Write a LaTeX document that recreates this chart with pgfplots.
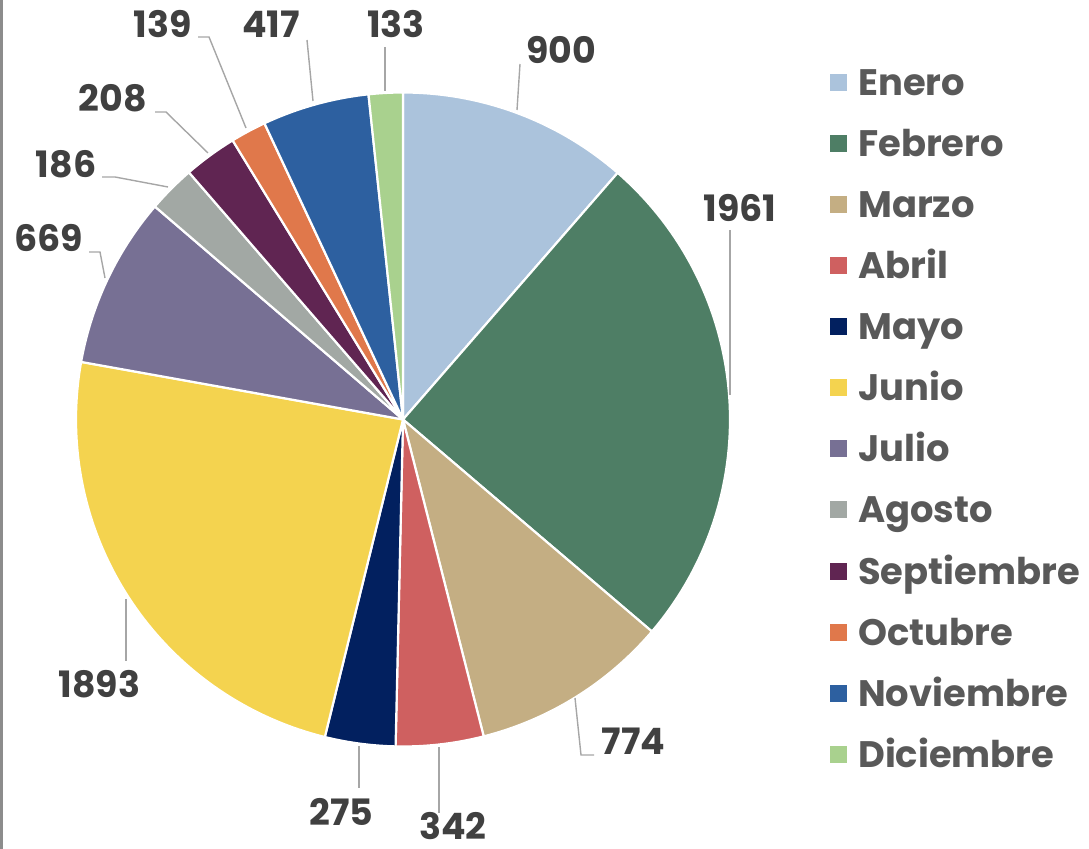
\documentclass[border=0pt]{standalone}
\usepackage{fontspec}
\setmainfont{Poppins}
\usepackage{pgfplots}
\pgfplotsset{compat=1.18}

\definecolor{cEnero}{HTML}{ABC3DC}
\definecolor{cFebrero}{HTML}{4E7E65}
\definecolor{cMarzo}{HTML}{C4AE83}
\definecolor{cAbril}{HTML}{CF6060}
\definecolor{cMayo}{HTML}{02205F}
\definecolor{cJunio}{HTML}{F4D34F}
\definecolor{cJulio}{HTML}{777094}
\definecolor{cAgosto}{HTML}{A2A8A4}
\definecolor{cSeptiembre}{HTML}{602552}
\definecolor{cOctubre}{HTML}{E0784B}
\definecolor{cNoviembre}{HTML}{2D60A0}
\definecolor{cDiciembre}{HTML}{A9D18E}
\definecolor{lbl}{HTML}{404040}
\definecolor{leg}{HTML}{595959}
\definecolor{lead}{HTML}{A6A6A6}

% total of all months
\def\Tot{7897}
\def\cx{403}
\def\cy{429.5}
\def\R{327}
% #1 colour, #2 cumulative total before this month, #3 value of this month
\newcommand\pieslice[3]{%
  \addplot[fill=#1, draw=white, line width=2.2bp, line join=round,
    domain={90-360*(#2+#3)/\Tot}:{90-360*(#2)/\Tot}, samples=90]
    ({\cx+\R*cos(x)},{\cy+\R*sin(x)}) -- (axis cs:\cx,\cy) -- cycle;}

\begin{document}
\begin{tikzpicture}
\begin{axis}[name=ax,
  width=1089bp, height=849bp, scale only axis,
  xmin=0, xmax=1089, ymin=0, ymax=849,
  hide axis, clip=false,
  legend cell align=left,
  legend image code/.code={\fill[#1,draw=none] (0bp,4.5bp) rectangle (17bp,21.5bp);},
  legend style={draw=none, fill=none, inner sep=0pt, row sep=0pt, column sep=11bp,
    at={(axis cs:830,784.5)}, anchor=north west,
    font=\fontsize{37}{40}\selectfont\bfseries, text=leg,
    nodes={inner sep=0pt, text height=30.55bp, text depth=30.55bp, anchor=base west}},
]
\pieslice{cEnero}{0}{900}
\addlegendentry{Enero}
\pieslice{cFebrero}{900}{1961}
\addlegendentry{Febrero}
\pieslice{cMarzo}{2861}{774}
\addlegendentry{Marzo}
\pieslice{cAbril}{3635}{342}
\addlegendentry{Abril}
\pieslice{cMayo}{3977}{275}
\addlegendentry{Mayo}
\pieslice{cJunio}{4252}{1893}
\addlegendentry{Junio}
\pieslice{cJulio}{6145}{669}
\addlegendentry{Julio}
\pieslice{cAgosto}{6814}{186}
\addlegendentry{Agosto}
\pieslice{cSeptiembre}{7000}{208}
\addlegendentry{Septiembre}
\pieslice{cOctubre}{7208}{139}
\addlegendentry{Octubre}
\pieslice{cNoviembre}{7347}{417}
\addlegendentry{Noviembre}
\pieslice{cDiciembre}{7764}{133}
\addlegendentry{Diciembre}

% leader lines
\begin{scope}[draw=lead, line width=1.4bp]
\draw (axis cs:198,812) -- (axis cs:209,812) -- (axis cs:246,721);
\draw (axis cs:307,809) -- (axis cs:313,748);
\draw (axis cs:385,802) -- (axis cs:385,758);
\draw (axis cs:155,737) -- (axis cs:166,737) -- (axis cs:208,696);
\draw (axis cs:102,672) -- (axis cs:115,672) -- (axis cs:168,662);
\draw (axis cs:89,597) -- (axis cs:100,597) -- (axis cs:105,571);
\draw (axis cs:520,785) -- (axis cs:517,739);
\draw (axis cs:730,619) -- (axis cs:730,454);
\draw (axis cs:575,151) -- (axis cs:581,94) -- (axis cs:594,94);
\draw (axis cs:359,103) -- (axis cs:359,61);
\draw (axis cs:439,102) -- (axis cs:439,36);
\draw (axis cs:126,250) -- (axis cs:126,188);
\end{scope}

% data labels
\begin{scope}[every node/.style={anchor=base, inner sep=0pt, text=lbl,
    font=\fontsize{36.5}{40}\selectfont\bfseries}]
\node at (axis cs:163,811) {139};
\node at (axis cs:271,811) {417};
\node at (axis cs:396,811) {133};
\node at (axis cs:113,737) {208};
\node at (axis cs:66,671) {186};
\node at (axis cs:48.5,597) {669};
\node at (axis cs:561,785) {900};
\node at (axis cs:740,627) {1961};
\node at (axis cs:633.5,94) {774};
\node at (axis cs:341.5,24) {275};
\node at (axis cs:453,10) {342};
\node at (axis cs:99.5,151) {1893};
\end{scope}

% left border line
\draw[color=gray!90, line width=2.5bp] (axis cs:1.5,0) -- (axis cs:1.5,849);
\end{axis}
\pgfresetboundingbox
\path[use as bounding box] (ax.south west) rectangle (ax.north east);
\end{tikzpicture}
\end{document}
